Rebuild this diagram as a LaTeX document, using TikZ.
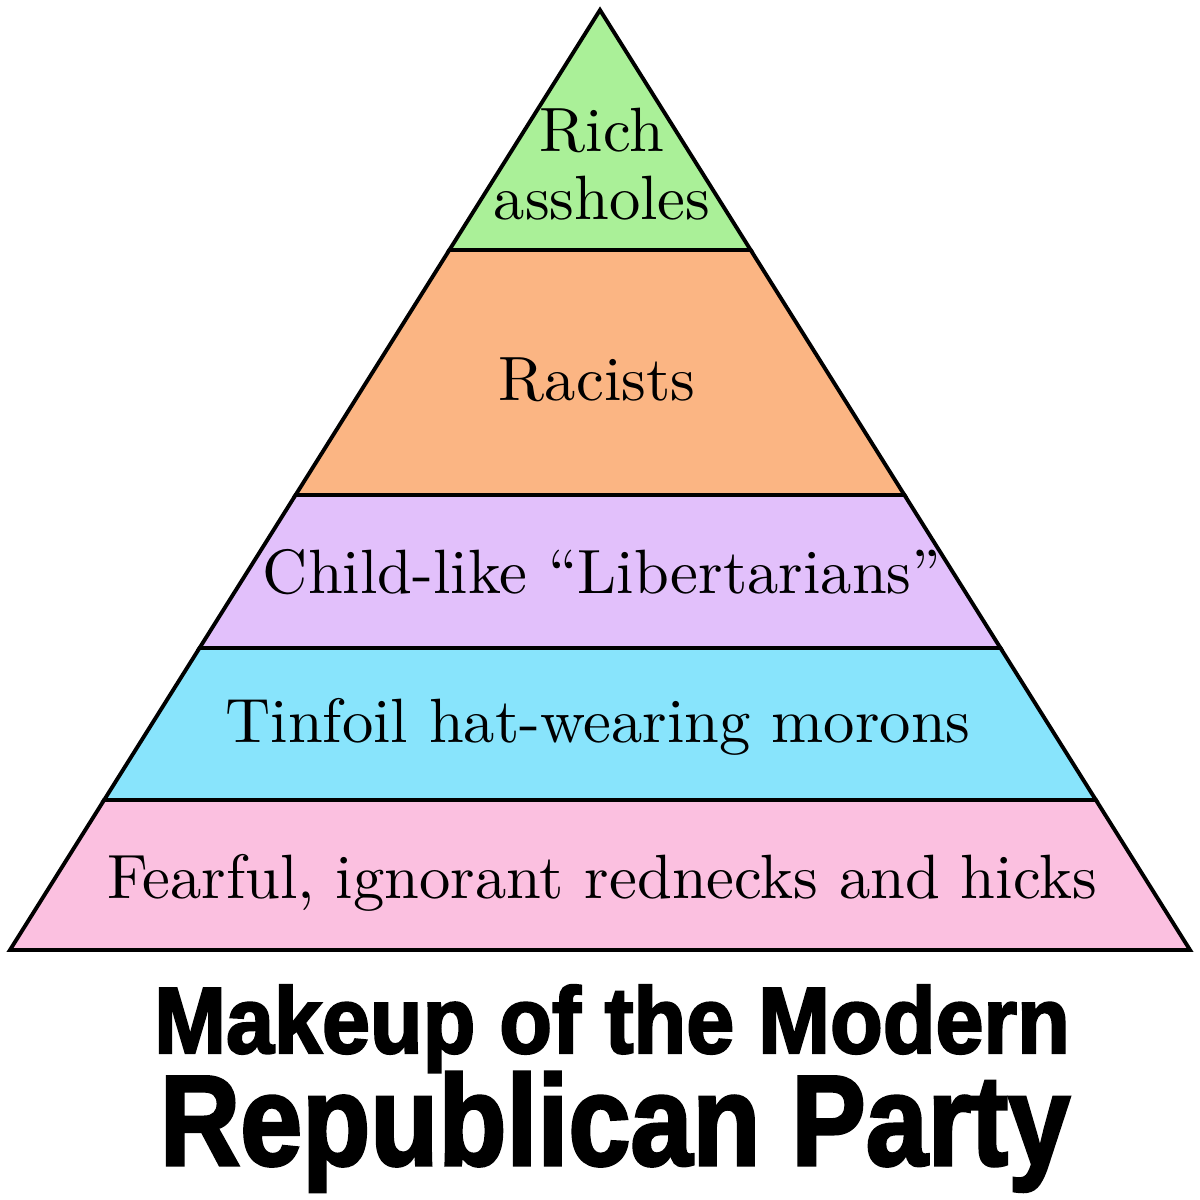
\documentclass[tikz,border=0pt]{standalone}
\usepackage{fontspec}
\usepackage{graphicx}
\newfontfamily\layerfont[Ligatures=TeX]{lmroman10-regular.otf}
\newfontfamily\titlefont[FakeBold=2.5]{Liberation Sans Bold}
\definecolor{cgreen}{RGB}{170,240,152}
\definecolor{corange}{RGB}{251,181,131}
\definecolor{cpurple}{RGB}{226,192,251}
\definecolor{ccyan}{RGB}{136,228,252}
\definecolor{cpink}{RGB}{251,192,224}
\tikzset{
  every picture/.style={line width=1.1pt, line join=miter},
  band/.style={draw=black, fill=#1},
  layer/.style={font=\layerfont\fontsize{17.8}{19.3}\selectfont, align=center, inner sep=0pt},
  title/.style={inner sep=0pt, anchor=base},
}

\begin{document}
\begin{tikzpicture}[x=0.01cm, y=-0.01cm]
  \useasboundingbox (0,0) rectangle (1200,1200);
  % the pyramid, one trapezoid per layer
  \foreach \ytop/\ybot/\col in {10/250/cgreen, 250/495/corange, 495/648/cpurple, 648/800/ccyan, 800/950/cpink} {
    \filldraw[band=\col] ({600-0.6277*(\ytop-10)},\ytop) -- ({600+0.6277*(\ytop-10)},\ytop)
      -- ({600+0.6277*(\ybot-10)},\ybot) -- ({600-0.6277*(\ybot-10)},\ybot) -- cycle;
  }
  \node[layer] (rich) at (602,164) {Rich\\assholes};
  \node[layer, anchor=base] (racists) at (597,400) {Racists};
  \node[layer, anchor=base] (childlike) at (602,593) {Child-like “Libertarians”};
  \node[layer, anchor=base] (tinfoil) at (598,742) {Tinfoil hat-wearing morons};
  \node[layer, anchor=base] (fearful) at (602,898) {Fearful, ignorant rednecks and hicks};
  % caption below the pyramid
  \node[title] (makeup) at (612,1053) {\resizebox{9.15cm}{0.68cm}{\titlefont Makeup of the Modern}};
  \node[title] (republican) at (615,1165) {\resizebox{9.10cm}{0.93cm}{\titlefont Republican Party}};
\end{tikzpicture}
\end{document}
